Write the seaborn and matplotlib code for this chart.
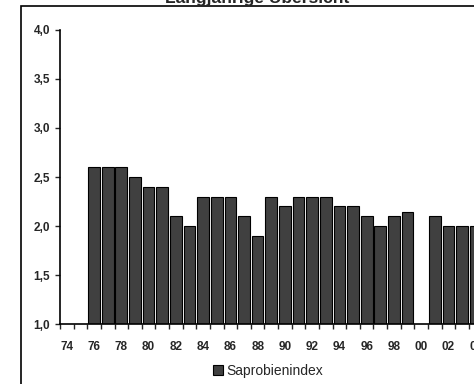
import numpy as np
import pandas as pd
import matplotlib
matplotlib.use("Agg")
import matplotlib.pyplot as plt
from matplotlib.patches import Rectangle
from matplotlib.ticker import FixedLocator, FuncFormatter
import seaborn as sns

# Data (years 1974-2004, gaps where no value)
years = ["74", "75", "76", "77", "78", "79", "80", "81", "82", "83",
         "84", "85", "86", "87", "88", "89", "90", "91", "92", "93",
         "94", "95", "96", "97", "98", "99", "00", "01", "02", "03", "04"]
saprobienindex = [np.nan, np.nan, 2.6, 2.6, 2.6, 2.5, 2.4, 2.4, 2.1, 2.0,
                  2.3, 2.3, 2.3, 2.1, 1.9, 2.3, 2.2, 2.3, 2.3, 2.3,
                  2.2, 2.2, 2.1, 2.0, 2.1, 2.14, np.nan, 2.1, 2.0, 2.0, 2.0]
y_ticks = [1.0, 1.5, 2.0, 2.5, 3.0, 3.5, 4.0]

df = pd.DataFrame({"Jahr": years, "Saprobienindex": saprobienindex})

sns.set_style("white")
plt.rcParams["font.family"] = ["Liberation Sans", "DejaVu Sans"]

W, H = 474, 384
fig = plt.figure(figsize=(W / 100, H / 100), dpi=100)

# axes runs past the right edge of the picture (chart is cropped)
left, right_px = 60, 60 + 31 * 13.63
ax = fig.add_axes([left / W, (H - 324.3) / H, (right_px - left) / W, (324.3 - 29.7) / H])

sns.barplot(data=df, x="Jahr", y="Saprobienindex", order=years, ax=ax,
            color="#404040", saturation=1, width=0.86,
            edgecolor="black", linewidth=0.8, label="Saprobienindex")

ax.set_xlim(-0.5, len(years) - 0.5)
ax.set_ylim(1.0, 4.0)
ax.set_xlabel("")
ax.set_ylabel("")

# y axis
ax.yaxis.set_major_locator(FixedLocator(y_ticks))
ax.yaxis.set_major_formatter(FuncFormatter(lambda v, p: f"{v:.1f}".replace(".", ",")))
ax.tick_params(axis="y", direction="out", length=3.5, width=1, pad=3.5,
               labelsize=8.5, left=True)
for t in ax.get_yticklabels():
    t.set_fontweight("bold")

# x axis: labels every other year, tick marks between categories
ax.set_xticks(range(len(years)))
ax.set_xticklabels([y if i % 2 == 0 else "" for i, y in enumerate(years)],
                   fontsize=8.5, fontweight="bold")
ax.tick_params(axis="x", which="major", length=0, pad=12)
ax.set_xticks(np.arange(-0.5, len(years), 1.0), minor=True)
ax.tick_params(axis="x", which="minor", direction="out", length=3.8, width=1, bottom=True)

sns.despine(ax=ax)
for s in ["left", "bottom"]:
    ax.spines[s].set_linewidth(1.2)
    ax.spines[s].set_color("black")

# legend below the plot
ax.legend(loc="center", bbox_to_anchor=(268 / W, 1 - 371 / H),
          bbox_transform=fig.transFigure, frameon=False, fontsize=10,
          handlelength=0.7, handleheight=0.7, handletextpad=0.25)

# outer chart frame and cropped title
fig.patches.append(Rectangle((21 / W, -0.1), 1.2, (H - 6) / H + 0.1,
                             transform=fig.transFigure, fill=False,
                             edgecolor="black", linewidth=1.2))
fig.text(257 / W, 1 - 2.5 / H, "Langjährige Übersicht", ha="center", va="baseline",
         fontsize=12.5, fontweight="bold")

fig.savefig("out.png", dpi=100)
